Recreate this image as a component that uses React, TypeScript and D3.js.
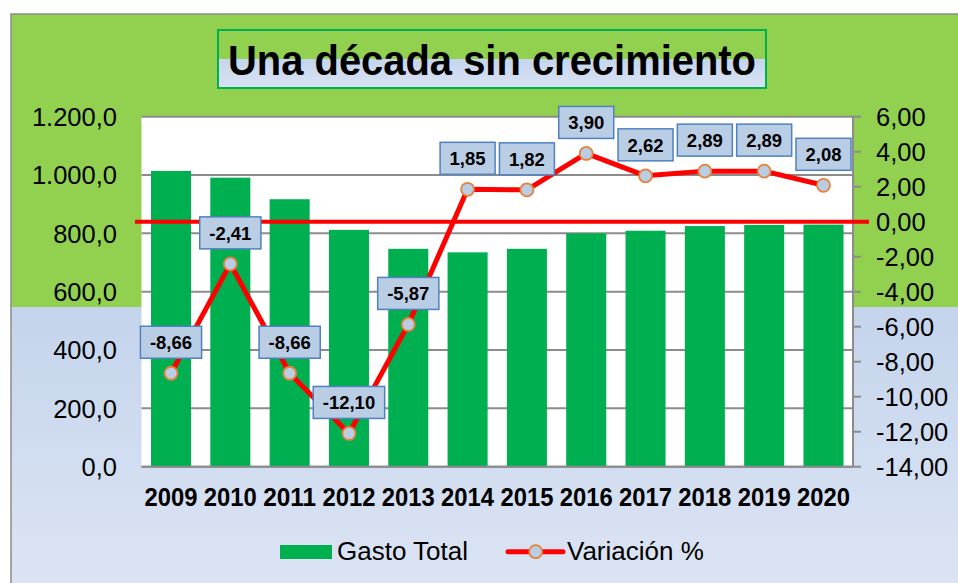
import React from "react";
import * as d3 from "d3";

const years = ["2009","2010","2011","2012","2013","2014","2015","2016","2017","2018","2019","2020"];
const gastoTotal = [1014, 991, 917, 812, 747, 735, 747, 800, 809, 825, 829, 830];
const variacion = [-8.66, -2.41, -8.66, -12.10, -5.87, 1.85, 1.82, 3.90, 2.62, 2.89, 2.89, 2.08];
const leftTicks = [0, 200, 400, 600, 800, 1000, 1200];
const rightTicks = [-14, -12, -10, -8, -6, -4, -2, 0, 2, 4, 6];
const titleText = "Una década sin crecimiento";
const legendLabels = ["Gasto Total", "Variación %"];

const W = 958, H = 583;
const FONT = "'Liberation Sans', Arial, Helvetica, sans-serif";

const locale = d3.formatLocale({ decimal: ",", thousands: ".", grouping: [3], currency: ["", "€"], minus: "-" });
const fmtL = locale.format(",.1f");
const fmtR = locale.format(".2f");

export default function App() {
  const plot = { left: 141.5, right: 853, top: 116.7, bottom: 466.7 };
  const x = d3.scaleBand<string>().domain(years).range([plot.left, plot.right]).paddingInner(0.325).paddingOuter(0.16);
  const yL = d3.scaleLinear().domain([0, 1200]).range([plot.bottom, plot.top]);
  const yR = d3.scaleLinear().domain([-14, 6]).range([plot.bottom, plot.top]);
  const cx = (d: string) => (x(d) as number) + x.bandwidth() / 2;

  const line = d3.line<number>().x((_, i) => cx(years[i])).y((v) => yR(v));

  const labelW = (s: string) => {
    let w = 0;
    for (const ch of s) w += ch === "," ? 0.278 : ch === "-" ? 0.333 : 0.556;
    return w * 18.5 + 19;
  };

  return (
    <svg width={W} height={H} style={{ position: "absolute", left: 0, top: 0, display: "block" }} fontFamily={FONT}>
      <defs>
        <linearGradient id="bg" x1="0" y1="0" x2="0" y2="1">
          <stop offset="0" stopColor="#92D050" />
          <stop offset="0.5" stopColor="#92D050" />
          <stop offset="0.5" stopColor="#C4D4EC" />
          <stop offset="1" stopColor="#DDE5F4" />
        </linearGradient>
        <linearGradient id="tbg" x1="0" y1="0" x2="0" y2="1">
          <stop offset="0" stopColor="#92D050" />
          <stop offset="0.5" stopColor="#92D050" />
          <stop offset="0.5" stopColor="#C6D5ED" />
          <stop offset="1" stopColor="#D8E2F3" />
        </linearGradient>
      </defs>
      <rect x={0} y={0} width={W} height={H} fill="#ffffff" />
      <rect x={11} y={14} width={960} height={586} fill="url(#bg)" stroke="#8C8C8C" strokeWidth={1.5} />

      {/* title */}
      <rect x={218} y={30} width={548} height={58} fill="url(#tbg)" stroke="#00B050" strokeWidth={2} />
      <text x={492} y={75} textAnchor="middle" fontSize={42} fontWeight="bold" fill="#000" textLength={528} lengthAdjust="spacingAndGlyphs">{titleText}</text>

      {/* plot area */}
      <rect x={plot.left} y={plot.top} width={plot.right - plot.left} height={plot.bottom - plot.top} fill="#ffffff" />
      {leftTicks.map((t) => (
        <line key={"g" + t} x1={plot.left} x2={plot.right} y1={yL(t)} y2={yL(t)} stroke="#8C8C8C" strokeWidth={2} />
      ))}
      <line x1={plot.right} x2={plot.right} y1={plot.top} y2={plot.bottom} stroke="#8C8C8C" strokeWidth={2} />
      {rightTicks.map((t) => (
        <line key={"rt" + t} x1={plot.right} x2={plot.right + 8} y1={yR(t)} y2={yR(t)} stroke="#8C8C8C" strokeWidth={2} />
      ))}

      {/* bars */}
      {years.map((yr, i) => (
        <rect key={"b" + yr} x={x(yr)} y={yL(gastoTotal[i])} width={x.bandwidth()} height={yL(0) - yL(gastoTotal[i])} fill="#00B050" />
      ))}
      <line x1={plot.left} x2={plot.right} y1={plot.bottom} y2={plot.bottom} stroke="#8C8C8C" strokeWidth={2} />

      {/* left axis labels */}
      {leftTicks.map((t) => (
        <text key={"l" + t} x={117} y={yL(t)} dy="0.36em" textAnchor="end" fontSize={25.5} fill="#000">{fmtL(t)}</text>
      ))}
      {/* right axis labels */}
      {rightTicks.map((t) => (
        <text key={"r" + t} x={876} y={yR(t)} dy="0.36em" textAnchor="start" fontSize={25.5} fill="#000">{fmtR(t)}</text>
      ))}
      {/* x labels */}
      {years.map((yr) => (
        <text key={"x" + yr} x={cx(yr)} y={506} textAnchor="middle" fontSize={26} fontWeight="bold" fill="#000" textLength={53} lengthAdjust="spacingAndGlyphs">{yr}</text>
      ))}

      {/* zero line */}
      <line x1={135} x2={869} y1={yR(0)} y2={yR(0)} stroke="#FF0000" strokeWidth={4} />

      {/* variation line */}
      <path d={line(variacion) || ""} fill="none" stroke="#FF0000" strokeWidth={5} strokeLinejoin="round" />
      {variacion.map((v, i) => (
        <circle key={"c" + i} cx={cx(years[i])} cy={yR(v)} r={6.5} fill="#B9CDE5" stroke="#E6813A" strokeWidth={1.8} />
      ))}

      {/* data labels */}
      {variacion.map((v, i) => {
        const s = fmtR(v);
        const w = labelW(s);
        const lx = cx(years[i]);
        const ly = yR(v) - 31;
        return (
          <g key={"lb" + i}>
            <rect x={lx - w / 2} y={ly - 16} width={w} height={32} fill="#B9CDE5" stroke="#4F81BD" strokeWidth={1.5} />
            <text x={lx} y={ly} dy="0.36em" textAnchor="middle" fontSize={18.5} fontWeight="bold" fill="#000">{s}</text>
          </g>
        );
      })}

      {/* legend */}
      <rect x={280} y={545} width={52} height={14} fill="#00B050" />
      <text x={337} y={560} fontSize={26} fill="#000">{legendLabels[0]}</text>
      <line x1={508} x2={563} y1={551.7} y2={551.7} stroke="#FF0000" strokeWidth={5} strokeLinecap="round" />
      <circle cx={535.7} cy={551.7} r={6.5} fill="#B9CDE5" stroke="#E6813A" strokeWidth={1.8} />
      <text x={567} y={560} fontSize={26} fill="#000">{legendLabels[1]}</text>
    </svg>
  );
}
